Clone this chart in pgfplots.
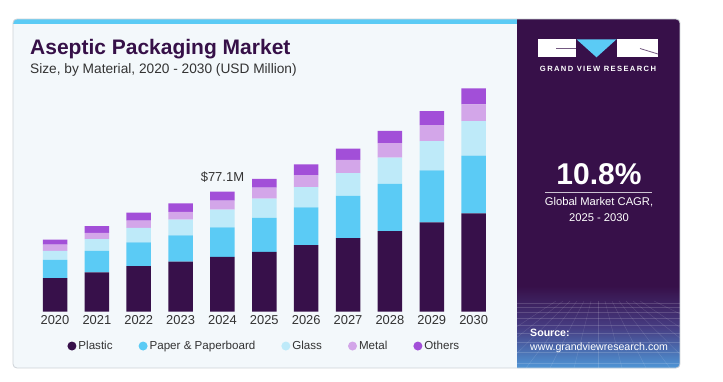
\documentclass[border=0pt]{standalone}
\usepackage{pgfplots}
\pgfplotsset{compat=1.18}
\usepackage{fontspec}
\setmainfont{Liberation Sans}
\definecolor{cPlastic}{HTML}{37104A}
\definecolor{cPaper}{HTML}{5BCBF5}
\definecolor{cGlass}{HTML}{BEEAF9}
\definecolor{cMetal}{HTML}{D3A6E9}
\definecolor{cOthers}{HTML}{A24FD8}
\definecolor{panel}{HTML}{371049}
\definecolor{cardbg}{HTML}{F3F8FB}
\definecolor{titlec}{HTML}{361048}
\definecolor{txt}{HTML}{333333}
\definecolor{gridblue}{HTML}{4F96D6}
\begin{document}
\begin{tikzpicture}
\begin{scope}[x=1pt,y=1pt]
\fill[white] (0,0) rectangle (723,381);
\begin{scope}
\clip[rounded corners=4pt] (13,13) rectangle (680,362);
\fill[cardbg] (13,13) rectangle (517.3,362);
\fill[cPaper] (13,357) rectangle (517.3,362);
\fill[panel] (517.3,13) rectangle (680,362);
\shade[top color=panel, bottom color=gridblue, middle color={rgb,255:red,70;green,60;blue,130}] (517.3,13) rectangle (680,95);
\foreach \yy in {78,74,69,63,56,48,39,29,18} \draw[white,opacity=0.16,line width=0.4pt] (517.3,\yy) -- (680,\yy);
\foreach \xx in {-120,-100,-80,-60,-40,-20,0,20,40,60,80,100,120,160} \draw[white,opacity=0.14,line width=0.4pt] (598+\xx*0.35,80) -- (598+\xx*1.2,13);
\end{scope}
\draw[rounded corners=4pt, draw={rgb,255:red,205;green,210;blue,215}, line width=0.8pt] (13,13) rectangle (680,362);
% titles
\node[anchor=base west, inner sep=0, font=\fontsize{21}{24}\selectfont\bfseries, text=titlec] at (30,326.7) {Aseptic Packaging Market};
\node[anchor=base west, inner sep=0, font=\fontsize{13.7}{16}\selectfont, text=txt] at (30,307) {Size, by Material, 2020 - 2030 (USD Million)};
% logo
\fill[white] (538.3,323.7) rectangle (576,341.7);
\draw[panel!70,line width=0.8pt] (556,332.5) -- (576,332.5);
\fill[cPaper] (576.5,341.7) -- (616.5,341.7) -- (596.5,323.7) -- cycle;
\fill[white] (617,323.7) rectangle (658,341.7);
\draw[panel!70,line width=0.8pt] (640,332.5) -- (658,327);
\node[anchor=base, inner sep=0, font=\fontsize{7.6}{9}\selectfont\bfseries\addfontfeature{LetterSpace=18}, text=white] at (598,309) {GRAND VIEW RESEARCH};
% CAGR
\node[anchor=base, inner sep=0, font=\fontsize{30}{34}\selectfont\bfseries, text=white] at (599,196.7) {10.8\%};
\draw[white!75!panel, line width=1pt] (545,188.7) -- (652,188.7);
\node[anchor=base, inner sep=0, font=\fontsize{11.2}{13}\selectfont, text=white] at (599,175.5) {Global Market CAGR,};
\node[anchor=base, inner sep=0, font=\fontsize{11.2}{13}\selectfont, text=white] at (599,159.3) {2025 - 2030};
\node[anchor=base west, inner sep=0, font=\fontsize{10.6}{12}\selectfont\bfseries, text=white] at (530,44.3) {Source:};
\node[anchor=base west, inner sep=0, font=\fontsize{10.6}{12}\selectfont, text=white] at (530,30.3) {www.grandviewresearch.com};
\end{scope}
\begin{axis}[at={(34.07pt,69.3pt)}, anchor=south west, scale only axis,
  width=460.5pt, height=233.5pt,
  xmin=-0.5, xmax=10.5, ymin=0, ymax=150,
  ybar stacked, bar width=24.5pt,
  axis line style={draw=none}, ytick=\empty,
  xtick={0,1,2,3,4,5,6,7,8,9,10},
  xticklabels={2020,2021,2022,2023,2024,2025,2026,2027,2028,2029,2030},
  major tick length=0pt,
  tick label style={font=\fontsize{12.9}{14}\selectfont, text=txt},
  legend style={at={(0.5,-0.147)}, anchor=center, draw=none, fill=none,
    legend columns=5, font=\fontsize{11.6}{13}\selectfont, text=txt,
    /tikz/every even column/.append style={column sep=24pt}},
  legend image code/.code={\fill[#1,draw=none] (-1.5pt,0pt) circle (4.5pt);},
]
\addplot[fill=cPlastic, draw=none] coordinates {(0,21.5) (1,25.3) (2,29.2) (3,32.1) (4,35.3) (5,38.4) (6,42.7) (7,47.2) (8,51.7) (9,57.4) (10,63.2)};
\addplot[fill=cPaper, draw=none] coordinates {(0,11.8) (1,13.7) (2,15.4) (3,17.0) (4,18.9) (5,21.8) (6,24.4) (7,27.2) (8,30.4) (9,33.4) (10,37.0)};
\addplot[fill=cGlass, draw=none] coordinates {(0,5.8) (1,7.7) (2,9.2) (3,10.0) (4,11.3) (5,12.4) (6,13.0) (7,14.6) (8,16.9) (9,18.8) (10,22.3)};
\addplot[fill=cMetal, draw=none] coordinates {(0,4.0) (1,4.0) (2,4.7) (3,5.1) (4,5.8) (5,7.1) (6,7.7) (7,8.5) (8,9.3) (9,10.3) (10,10.7)};
\addplot[fill=cOthers, draw=none] coordinates {(0,3.2) (1,4.3) (2,5.1) (3,5.4) (4,5.8) (5,5.6) (6,6.9) (7,7.3) (8,7.9) (9,9.0) (10,10.3)};
\legend{Plastic, Paper \& Paperboard, Glass, Metal, Others}
\node[anchor=south, inner sep=0pt, font=\fontsize{13}{15}\selectfont, text=txt, yshift=9pt] at (axis cs:4,77.1) {\$77.1M};
\end{axis}
\end{tikzpicture}
\end{document}
